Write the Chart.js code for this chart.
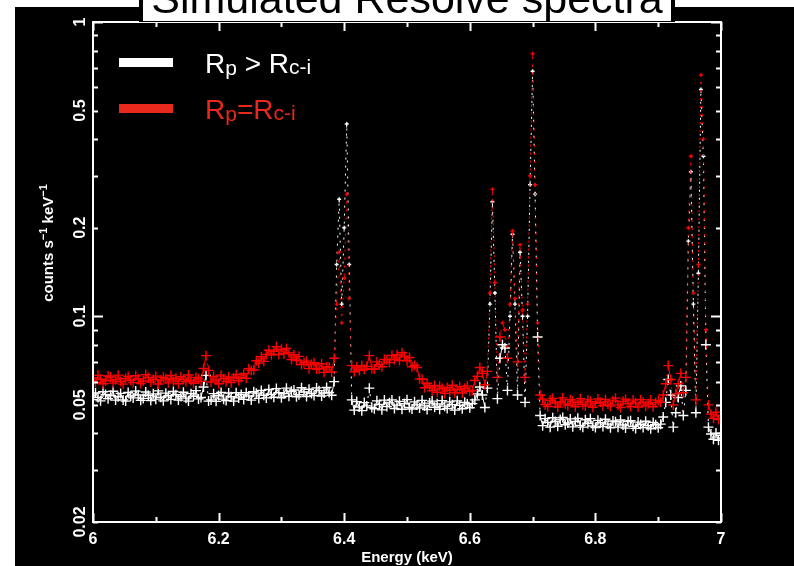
<!DOCTYPE html>
<html>
<head>
<meta charset="utf-8">
<title>Simulated Resolve spectra</title>
<script src="https://cdn.jsdelivr.net/npm/chart.js@4.4.1/dist/chart.umd.min.js"></script>
<style>
  html, body { margin: 0; padding: 0; background: #fff; }
  #spec { display: block; }
</style>
</head>
<body>
<canvas id="spec" width="794" height="566"></canvas>
<script>
// energy grid (keV), 4 eV bins
const energy = [
  6.000,6.004,6.008,6.012,6.016,6.020,6.024,6.028,6.032,6.036,
  6.040,6.044,6.048,6.052,6.056,6.060,6.064,6.068,6.072,6.076,
  6.080,6.084,6.088,6.092,6.096,6.100,6.104,6.108,6.112,6.116,
  6.120,6.124,6.128,6.132,6.136,6.140,6.144,6.148,6.152,6.156,
  6.160,6.164,6.168,6.172,6.176,6.180,6.184,6.188,6.192,6.196,
  6.200,6.204,6.208,6.212,6.216,6.220,6.224,6.228,6.232,6.236,
  6.240,6.244,6.248,6.252,6.256,6.260,6.264,6.268,6.272,6.276,
  6.280,6.284,6.288,6.292,6.296,6.300,6.304,6.308,6.312,6.316,
  6.320,6.324,6.328,6.332,6.336,6.340,6.344,6.348,6.352,6.356,
  6.360,6.364,6.368,6.372,6.376,6.380,6.384,6.388,6.392,6.396,
  6.400,6.404,6.408,6.412,6.416,6.420,6.424,6.428,6.432,6.436,
  6.440,6.444,6.448,6.452,6.456,6.460,6.464,6.468,6.472,6.476,
  6.480,6.484,6.488,6.492,6.496,6.500,6.504,6.508,6.512,6.516,
  6.520,6.524,6.528,6.532,6.536,6.540,6.544,6.548,6.552,6.556,
  6.560,6.564,6.568,6.572,6.576,6.580,6.584,6.588,6.592,6.596,
  6.600,6.604,6.608,6.612,6.616,6.620,6.624,6.628,6.632,6.636,
  6.640,6.644,6.648,6.652,6.656,6.660,6.664,6.668,6.672,6.676,
  6.680,6.684,6.688,6.692,6.696,6.700,6.704,6.708,6.712,6.716,
  6.720,6.724,6.728,6.732,6.736,6.740,6.744,6.748,6.752,6.756,
  6.760,6.764,6.768,6.772,6.776,6.780,6.784,6.788,6.792,6.796,
  6.800,6.804,6.808,6.812,6.816,6.820,6.824,6.828,6.832,6.836,
  6.840,6.844,6.848,6.852,6.856,6.860,6.864,6.868,6.872,6.876,
  6.880,6.884,6.888,6.892,6.896,6.900,6.904,6.908,6.912,6.916,
  6.920,6.924,6.928,6.932,6.936,6.940,6.944,6.948,6.952,6.956,
  6.960,6.964,6.968,6.972,6.976,6.980,6.984,6.988,6.992,6.996,
  7.000
];

// Rp = Rc-i (red), counts s^-1 keV^-1
const countsEqual = [
  0.0618,0.0597,0.0630,0.0611,0.0590,0.0604,0.0627,0.0622,0.0593,0.0609,
  0.0631,0.0600,0.0588,0.0615,0.0624,0.0606,0.0595,0.0628,0.0612,0.0591,
  0.0603,0.0633,0.0619,0.0598,0.0610,0.0626,0.0589,0.0607,0.0621,0.0614,
  0.0594,0.0629,0.0602,0.0616,0.0590,0.0623,0.0611,0.0599,0.0632,0.0605,
  0.0592,0.0620,0.0613,0.0601,
  0.0665,0.0735,0.0655,
  0.0598,0.0625,0.0607,0.0590,0.0631,0.0614,0.0600,0.0622,0.0595,0.0617,0.0633,0.0604,0.0620,
  0.0638,0.0616,0.0664,0.0655,0.0657,0.0706,0.0693,0.0729,0.0703,0.0742,
  0.0767,0.0740,0.0760,0.0788,0.0742,0.0773,0.0745,0.0778,0.0752,0.0713,
  0.0740,0.0708,0.0731,0.0686,0.0695,0.0704,0.0664,0.0687,0.0695,0.0662,
  0.0663,0.0690,0.0645,0.0672,0.0673,0.0647,
  0.0720,0.1100,0.1650,0.0950,0.1350,0.2600,0.1150,0.0680,
  0.0648,0.0672,0.0655,0.0680,0.0661,0.0676,
  0.0735,0.0665,
  0.0662,0.0700,0.0685,0.0674,0.0714,0.0712,0.0696,0.0736,0.0713,0.0740,
  0.0708,0.0752,0.0732,0.0706,0.0724,0.0674,0.0682,0.0670,0.0613,0.0611,
  0.0572,0.0592,0.0575,0.0559,0.0582,
  0.0552,0.0579,0.0568,0.0547,0.0573,0.0559,0.0583,0.0550,0.0564,0.0576,0.0549,0.0569,0.0580,0.0556,
  0.0560,0.0605,0.0625,0.0670,0.0640,0.0585,0.0650,0.1200,0.2700,0.1300,
  0.0620,0.0850,0.0950,0.0900,0.0720,0.1100,0.1950,0.1150,0.0700,0.1750,
  0.1050,0.0620,0.1100,0.3000,0.7800,0.2800,0.0950,0.0540,
  0.0523,0.0501,0.0494,0.0518,0.0526,0.0507,0.0492,0.0512,0.0528,0.0504,
  0.0498,0.0521,0.0515,0.0493,0.0509,0.0525,0.0502,0.0496,0.0520,0.0513,
  0.0491,0.0506,0.0524,0.0510,0.0497,0.0522,0.0503,0.0495,0.0516,0.0527,
  0.0500,0.0490,0.0514,0.0523,0.0505,0.0494,0.0519,0.0508,0.0492,0.0521,
  0.0511,0.0496,0.0504,0.0520,0.0493,0.0509,0.0517,
  0.0510,0.0540,0.0590,0.0680,0.0610,0.0500,0.0545,0.0590,0.0640,0.0550,
  0.0620,0.2000,0.3500,0.1200,0.0520,0.1500,0.6600,0.4000,0.0900,0.0500,
  0.0465,0.0450,0.0472,0.0446,0.0460
];

// Rp > Rc-i (white), counts s^-1 keV^-1
const countsGreater = [
  0.0521,0.0549,0.0530,0.0516,0.0554,0.0542,0.0525,0.0538,0.0556,0.0519,
  0.0533,0.0547,0.0520,0.0515,0.0551,0.0536,0.0528,0.0557,0.0540,0.0518,
  0.0526,0.0553,0.0539,0.0517,0.0545,0.0523,0.0558,0.0531,0.0516,0.0548,
  0.0537,0.0522,0.0555,0.0541,0.0519,0.0534,0.0552,0.0527,0.0515,0.0546,
  0.0535,0.0559,0.0524,0.0530,
  0.0575,0.0630,0.0515,
  0.0520,0.0546,0.0514,0.0538,0.0551,0.0523,0.0517,0.0549,0.0533,0.0515,0.0550,0.0528,0.0542,
  0.0522,0.0550,0.0536,0.0519,0.0554,0.0548,0.0526,0.0560,0.0539,0.0528,
  0.0564,0.0543,0.0531,0.0568,0.0550,0.0529,0.0546,0.0570,0.0535,0.0556,
  0.0562,0.0533,0.0541,0.0572,0.0553,0.0534,0.0565,0.0547,0.0538,0.0571,
  0.0559,0.0536,0.0549,0.0573,0.0551,0.0539,
  0.0600,0.1500,0.2500,0.1100,0.2000,0.4500,0.1500,0.0520,
  0.0480,0.0513,0.0492,0.0478,0.0509,0.0496,
  0.0570,0.0490,
  0.0485,0.0516,0.0502,0.0481,0.0519,0.0494,0.0508,0.0520,0.0486,0.0499,
  0.0514,0.0483,0.0505,0.0521,0.0490,0.0484,0.0512,0.0500,0.0488,0.0518,
  0.0496,0.0482,0.0507,0.0515,0.0491,
  0.0504,0.0483,0.0517,0.0495,0.0486,0.0512,0.0501,0.0480,0.0516,0.0498,0.0485,0.0510,0.0503,0.0489,
  0.0505,0.0520,0.0545,0.0575,0.0540,0.0490,0.0570,0.1100,0.2450,0.1200,
  0.0525,0.0720,0.0800,0.0780,0.0560,0.1000,0.1900,0.1100,0.0540,0.1650,
  0.1000,0.0510,0.1000,0.2800,0.6800,0.2600,0.0850,0.0460,
  0.0425,0.0449,0.0436,0.0420,0.0452,0.0439,0.0423,0.0446,0.0453,0.0428,
  0.0434,0.0448,0.0421,0.0439,0.0450,0.0426,0.0420,0.0445,0.0432,0.0449,
  0.0424,0.0419,0.0443,0.0435,0.0422,0.0447,0.0430,0.0418,0.0441,0.0438,
  0.0420,0.0444,0.0427,0.0417,0.0439,0.0442,0.0423,0.0416,0.0437,0.0429,
  0.0419,0.0440,0.0425,0.0415,0.0436,0.0428,0.0418,
  0.0430,0.0455,0.0510,0.0610,0.0540,0.0420,0.0470,0.0530,0.0580,0.0460,
  0.0560,0.1800,0.3100,0.1100,0.0470,0.1400,0.5900,0.3500,0.0800,0.0420,
  0.0398,0.0382,0.0401,0.0379,0.0394
];

// axis ticks
const xMajor = [6, 6.2, 6.4, 6.6, 6.8, 7];
const xMinor = [6.1, 6.3, 6.5, 6.7, 6.9];
const xLabels = ['6', '6.2', '6.4', '6.6', '6.8', '7'];
const yMajor = [0.1, 1];
const yMinor = [0.02, 0.03, 0.04, 0.05, 0.06, 0.07, 0.08, 0.09, 0.2, 0.3, 0.4, 0.5, 0.6, 0.7, 0.8, 0.9];
const yLabelVals = [0.02, 0.05, 0.1, 0.2, 0.5, 1];
const yLabels = ['0.02', '0.05', '0.1', '0.2', '0.5', '1'];

const FONT = "'Liberation Sans', Arial, Helvetica, sans-serif";

function toPoints(ys) {
  return energy.map((e, i) => ({ x: e, y: ys[i] }));
}

// steep jumps of the narrow lines are dotted, like the binned crosses
const steep = s => Math.abs(s.p1.y - s.p0.y) > 14;
const segStyle = { borderDash: s => steep(s) ? [2, 6] : undefined };
// error-bar crosses shrink for the bright line bins
const crossSize = c => (c.raw && c.raw.y > 0.085) ? 2 : 5;

// draw text made of pieces [text, size, dy]
function richText(ctx, x, y, parts, color) {
  ctx.fillStyle = color;
  ctx.textAlign = 'left';
  ctx.textBaseline = 'alphabetic';
  parts.forEach(p => {
    ctx.font = p[1] + 'px ' + FONT;
    ctx.fillText(p[0], x, y + p[2]);
    x += ctx.measureText(p[0]).width;
  });
  return x;
}

const frame = {
  id: 'frame',
  beforeDraw(chart) {
    const c = chart.ctx;
    c.save();
    c.fillStyle = '#fff';
    c.fillRect(0, 0, chart.width, chart.height);
    c.fillStyle = '#000';
    c.fillRect(15, 7, chart.width - 15, chart.height - 7);
    c.restore();
  },
  afterDraw(chart) {
    const c = chart.ctx;
    const a = chart.chartArea;
    const xs = chart.scales.x, ys = chart.scales.y;
    c.save();
    c.strokeStyle = '#fff';
    c.lineWidth = 2;
    c.strokeRect(a.left, a.top, a.right - a.left, a.bottom - a.top);

    // inward ticks on all four sides
    c.beginPath();
    const xt = (v, len) => {
      const px = Math.round(xs.getPixelForValue(v)) + 0.5;
      c.moveTo(px, a.bottom); c.lineTo(px, a.bottom - len);
      c.moveTo(px, a.top); c.lineTo(px, a.top + len);
    };
    const yt = (v, len) => {
      const py = Math.round(ys.getPixelForValue(v)) + 0.5;
      c.moveTo(a.left, py); c.lineTo(a.left + len, py);
      c.moveTo(a.right, py); c.lineTo(a.right - len, py);
    };
    xMajor.forEach(v => xt(v, 9));
    xMinor.forEach(v => xt(v, 5));
    yMajor.forEach(v => yt(v, 10));
    yMinor.forEach(v => yt(v, 5));
    c.lineWidth = 2;
    c.stroke();

    // tick labels
    c.fillStyle = '#fff';
    c.font = 'bold 16px ' + FONT;
    c.textAlign = 'center';
    c.textBaseline = 'alphabetic';
    xMajor.forEach((v, i) => c.fillText(xLabels[i], xs.getPixelForValue(v), 544));
    yLabelVals.forEach((v, i) => {
      c.save();
      c.translate(85, ys.getPixelForValue(v));
      c.rotate(-Math.PI / 2);
      c.fillText(yLabels[i], 0, 0);
      c.restore();
    });

    // axis titles
    c.font = 'bold 15px ' + FONT;
    c.fillText('Energy (keV)', (a.left + a.right) / 2, 562);

    c.save();
    c.translate(53, 243);
    c.rotate(-Math.PI / 2);
    const yParts = [['counts s', 15, 0], ['\u22121', 11, -6], [' keV', 15, 0], ['\u22121', 11, -6]];
    let w = 0;
    yParts.forEach(p => { c.font = 'bold ' + p[1] + 'px ' + FONT; w += c.measureText(p[0]).width; });
    let x0 = -w / 2;
    yParts.forEach(p => {
      c.font = 'bold ' + p[1] + 'px ' + FONT;
      c.textAlign = 'left';
      c.fillText(p[0], x0, p[2]);
      x0 += c.measureText(p[0]).width;
    });
    c.restore();

    // legend
    c.fillStyle = '#fff';
    c.fillRect(119, 58, 54, 9);
    c.fillStyle = '#e8281a';
    c.fillRect(119, 104, 54, 9);
    richText(c, 205, 73, [['R', 28, 0], ['p', 21, 2], [' > ', 28, 0], ['R', 28, 0], ['c-i', 21, 1]], '#fff');
    richText(c, 205, 119, [['R', 28, 0], ['p', 21, 2], ['=', 28, 0], ['R', 28, 0], ['c-i', 21, 1]], '#e8281a');

    // title box, cut by the top of the page
    c.fillStyle = '#000';
    c.fillRect(139, 0, 536, 22);
    c.fillStyle = '#fff';
    c.fillRect(143, 0, 528, 21);
    c.fillStyle = '#000';
    c.font = '43px ' + FONT;
    c.textAlign = 'center';
    c.fillText('Simulated Resolve spectra', 407, 13);
    c.restore();
  }
};

new Chart(document.getElementById('spec'), {
  type: 'line',
  data: {
    datasets: [
      {
        label: 'Rp > Rc-i',
        data: toPoints(countsGreater),
        borderColor: '#ffffff',
        borderWidth: 1,
        pointStyle: 'cross',
        pointRadius: crossSize,
        pointBorderWidth: 1.4,
        pointBorderColor: '#ffffff',
        tension: 0,
        order: 2,
        segment: segStyle
      },
      {
        label: 'Rp=Rc-i',
        data: toPoints(countsEqual),
        borderColor: '#ff0000',
        borderWidth: 1,
        pointStyle: 'cross',
        pointRadius: crossSize,
        pointBorderWidth: 1.4,
        pointBorderColor: '#ff0000',
        tension: 0,
        order: 1,
        segment: segStyle
      }
    ]
  },
  options: {
    responsive: false,
    devicePixelRatio: 1,
    animation: false,
    layout: { padding: { left: 93, top: 22, right: 73, bottom: 44 } },
    plugins: {
      legend: { display: false },
      tooltip: { enabled: false }
    },
    scales: {
      x: { type: 'linear', min: 6, max: 7, display: false },
      y: { type: 'logarithmic', min: 0.02, max: 1, display: false }
    }
  },
  plugins: [frame]
});
</script>
</body>
</html>
